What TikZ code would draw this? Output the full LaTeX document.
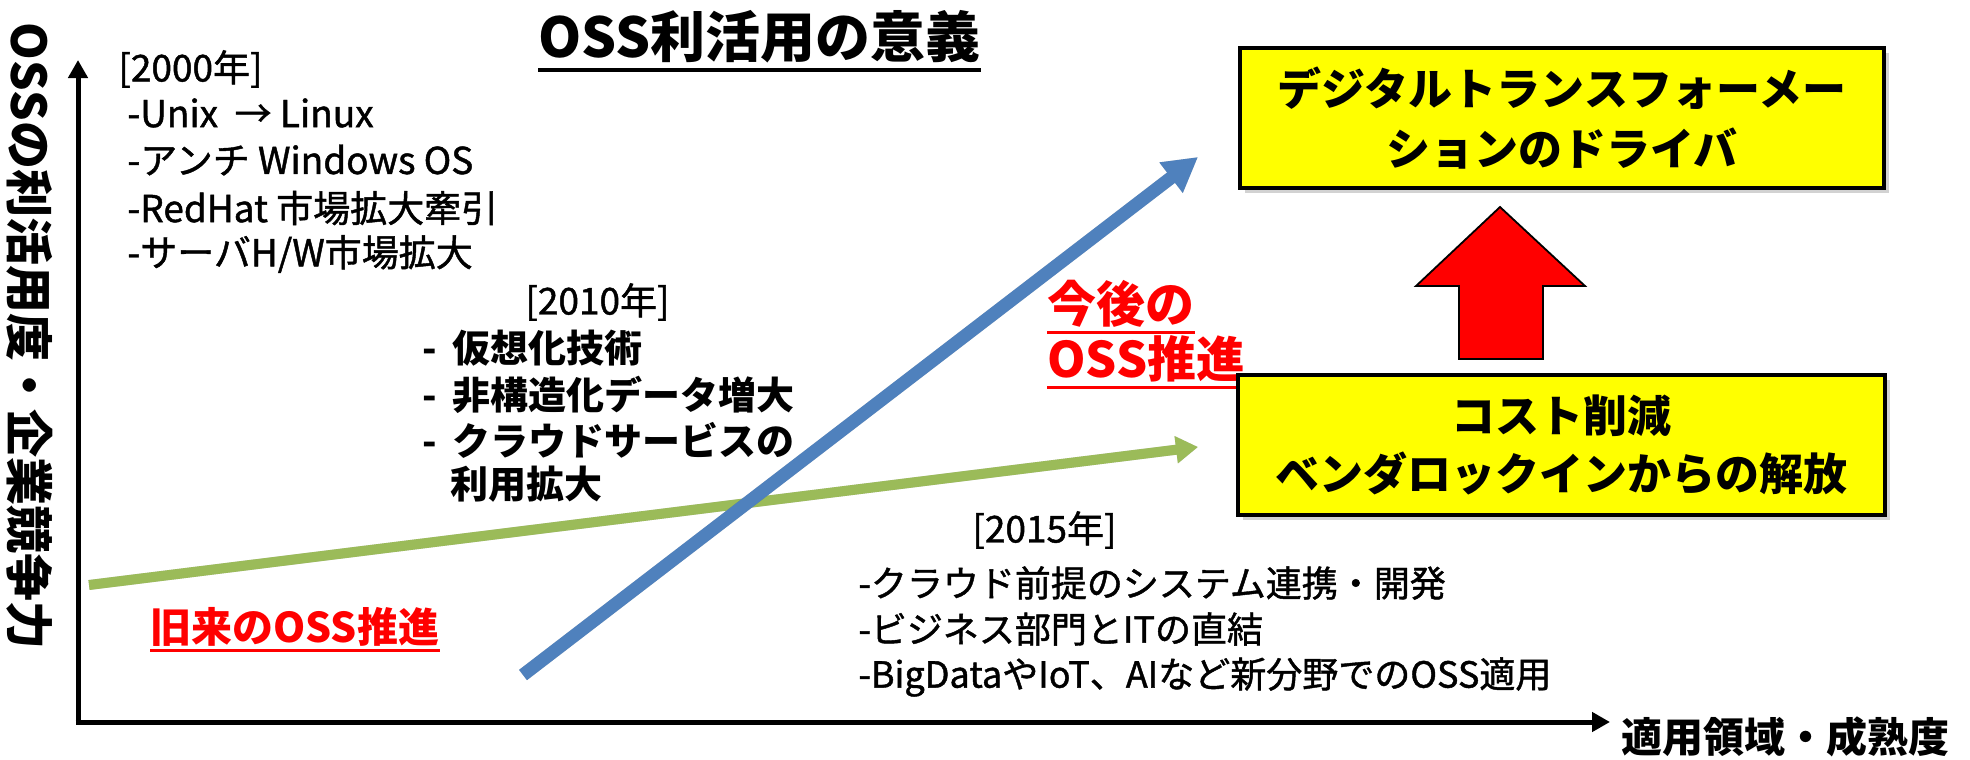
\documentclass[tikz,border=0pt]{standalone}
\usepackage{fontspec}
\setmainfont{Noto Sans CJK JP}
\newfontfamily\jpmed[FakeBold=1.2]{Noto Sans CJK JP}
\usetikzlibrary{arrows.meta,shadows}
\definecolor{oblue}{HTML}{4F81BD}
\definecolor{ogreen}{HTML}{9BBB59}
\definecolor{yel}{HTML}{FFFF00}
\definecolor{ored}{HTML}{FF0000}
\newcommand\fsz[1]{\fontsize{#1}{#1}\selectfont}
\tikzset{
  txt/.style={inner sep=0pt, anchor=west},
  yearhead/.style={txt, font=\jpmed\fsz{18.5pt}},
  item/.style={txt, font=\jpmed\fsz{18.5pt}},
  itemb/.style={txt, font=\fsz{19pt}\bfseries},
  item15/.style={txt, font=\jpmed\fsz{18pt}},
  redlab/.style={txt, text=ored, font=\fsz{24.5pt}\bfseries},
  uline/.style={line width=1.5pt},
  axis/.style={line width=2.5pt, -{Triangle[length=9pt,width=9.5pt]}},
  yelbox/.style={draw=black, line width=2pt, fill=yel, align=center,
     font=\fontsize{22pt}{30pt}\selectfont\bfseries,
     drop shadow={shadow xshift=2.5pt, shadow yshift=-2.5pt, opacity=0.35}},
  shadowline/.style={draw=black, opacity=0.18, xshift=1.5pt, yshift=-2pt},
}
\begin{document}
\begin{tikzpicture}[x=0.5pt,y=-0.5pt]
\fill[white] (0,0) rectangle (1970,760);
\useasboundingbox (0,0) rectangle (1970,760);

% title
\node[txt, font=\fsz{27.5pt}\bfseries] (title) at (538,37) {OSS利活用の意義};
\draw[line width=1.8pt] ([yshift=-3pt]title.south west) -- ([yshift=-3pt]title.south east);

% axes
\coordinate (origin) at (78,722);
\coordinate (ytip) at (78,60);
\coordinate (xtip) at (1610,722);
\draw[axis] ([yshift=-1.25pt]origin) -- (ytip);
\draw[axis] ([xshift=-1.25pt]origin) -- (xtip);
\node[rotate=-90, inner sep=0pt, font=\fsz{24pt}\bfseries] (ylab) at (30,336) {OSSの利活用度・企業競争力};
\node[txt, font=\fsz{20.5pt}\bfseries] (xlab) at (1621,737) {適用領域・成熟度};

% 2000 block
\node[yearhead] (h2000) at (118,69) {[2000年]};
\node[item] (a1) at (127,113) {-Unix\ \ → Linux};
\node[item] (a2) at (127,160) {-アンチ Windows OS};
\node[item] (a3) at (127,208) {-RedHat 市場拡大牽引};
\node[item] (a4) at (127,254) {-サーバH/W市場拡大};

% 2010 block
\node[yearhead] (h2010) at (525,302) {[2010年]};
\node[itemb] (b1) at (422,348) {-\hspace{0.42em}仮想化技術};
\node[itemb] (b2) at (422,395) {-\hspace{0.42em}非構造化データ増大};
\node[itemb] (b3) at (422,440) {-\hspace{0.42em}クラウドサービスの};
\node[itemb] (b4) at (450,484) {利用拡大};

% green arrow (old OSS promotion)
\coordinate (gstart) at (89,585);
\coordinate (gend) at (1198,447);
\draw[shadowline, line width=5pt, -{Triangle[length=11pt,width=13pt]}] (gstart) -- (gend);
\draw[ogreen, line width=5pt, -{Triangle[length=11pt,width=13pt]}] (gstart) -- (gend);

% blue arrow (future OSS promotion)
\coordinate (bstart) at (523,675);
\coordinate (bend) at (1198,157);
\draw[shadowline, line width=6.5pt, -{Triangle[length=17pt,width=18pt]}] (bstart) -- (bend);
\draw[oblue, line width=6.5pt, -{Triangle[length=17pt,width=18pt]}] (bstart) -- (bend);

% 2015 block
\node[yearhead] (h2015) at (972,530) {[2015年]};
\node[item15] (c1) at (858,583) {-クラウド前提のシステム連携・開発};
\node[item15] (c2) at (858,629) {-ビジネス部門とITの直結};
\node[item15] (c3) at (858,677) {-BigDataやIoT、AIなど新分野でのOSS適用};

% red labels
\node[redlab] (r1) at (1047,304) {今後の};
\draw[ored, uline] ([yshift=-2pt]r1.south west) -- ([yshift=-2pt]r1.south east);
\node[redlab] (r2) at (1047,359) {OSS推進};
\draw[ored, uline] ([yshift=-2.5pt]r2.south west) -- ([yshift=-2.5pt]r2.south east);
\node[txt, text=ored, font=\fsz{20.5pt}\bfseries] (old) at (150,627) {旧来のOSS推進};
\draw[ored, uline] ([yshift=-2pt]old.south west) -- ([yshift=-2pt]old.south east);

% boxes
\node[yelbox, minimum width=322pt, minimum height=70pt] (dx) at (1562,118) {デジタルトランスフォーメー\\ションのドライバ};
\node[yelbox, minimum width=323.5pt, minimum height=70pt, font=\fontsize{22pt}{29pt}\selectfont\bfseries] (cost) at (1561,445) {コスト削減\\ベンダロックインからの解放};

% red block arrow
\fill[ored, draw=black, line width=0.9pt] (1500,207) -- (1585,286) -- (1543,286) -- (1543,359) -- (1459,359) -- (1459,286) -- (1416,286) -- cycle;
\end{tikzpicture}
\end{document}
